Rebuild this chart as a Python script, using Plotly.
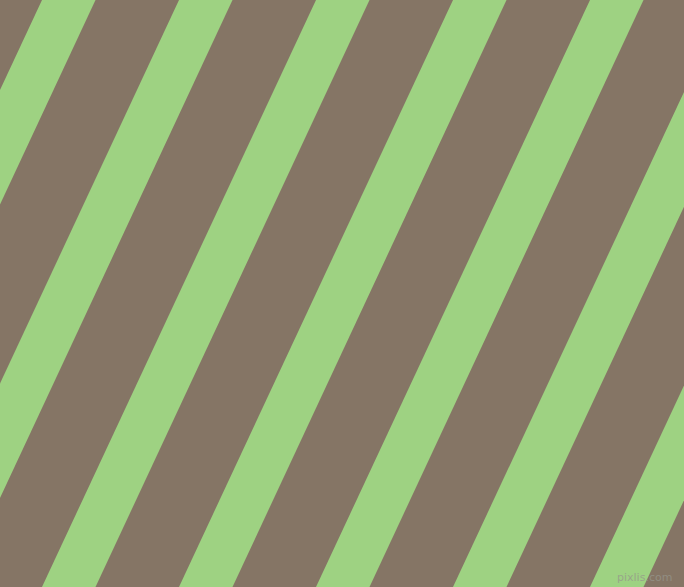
import plotly.graph_objects as go

# canvas
width = 684
height = 587

# left edge of each green band where it meets the top border (px)
band_starts = [-95, 42, 179, 316, 453, 590, 727, 864]
band_width = 53.5          # horizontal width of a band
band_slope = 0.4668        # px moved left per px down

brown = "#857565"
green = "#9ED282"

fig = go.Figure()

for x0 in band_starts:
    xs = [x0, x0 + band_width,
          x0 + band_width - band_slope * height, x0 - band_slope * height, x0]
    ys = [0, 0, height, height, 0]
    fig.add_trace(go.Scatter(x=xs, y=ys, mode="lines", fill="toself",
                             fillcolor=green, line=dict(width=0, color=green),
                             hoverinfo="skip", showlegend=False))

fig.add_annotation(text="pixlis.com", x=0.985, y=0.002, xref="paper", yref="paper",
                   xanchor="right", yanchor="bottom", showarrow=False,
                   font=dict(family="DejaVu Sans", size=11, color="rgba(150,150,140,0.75)"))

fig.update_xaxes(range=[0, width], visible=False, fixedrange=True)
fig.update_yaxes(range=[height, 0], visible=False, fixedrange=True)
fig.update_layout(width=width, height=height, margin=dict(l=0, r=0, t=0, b=0),
                  paper_bgcolor=brown, plot_bgcolor=brown)

# page has a default 8px body margin, drop it so the figure fills the window
fig.write_html("out.html", config={"displayModeBar": False},
               post_script="document.body.style.margin='0';document.body.style.overflow='hidden';")
